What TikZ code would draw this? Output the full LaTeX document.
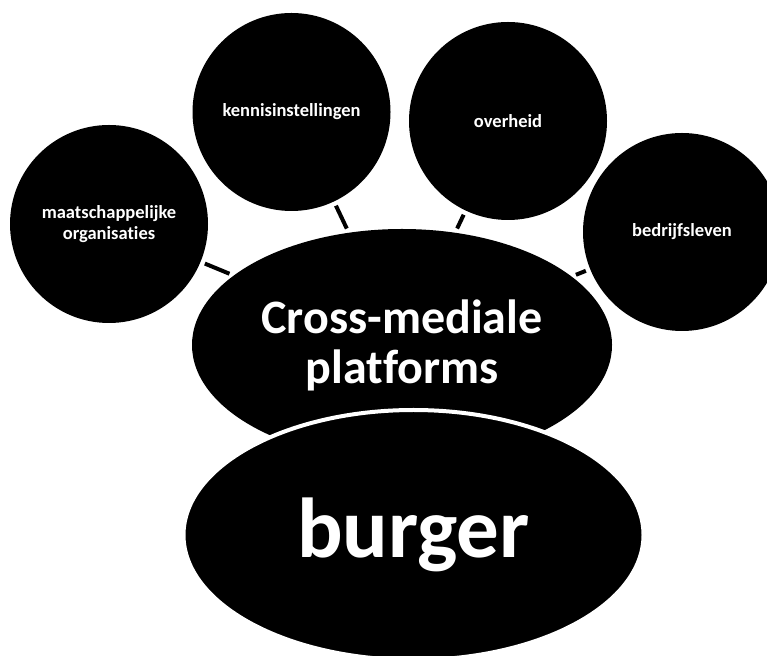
\documentclass[tikz,border=0pt]{standalone}
\usepackage{fontspec}
\setmainfont{Carlito}[Ligatures=NoCommon]
\usetikzlibrary{shapes.geometric}
\begin{document}
\begin{tikzpicture}[x=1pt,y=1pt,
  blob/.style={circle,fill=black,text=white,inner sep=0pt,minimum size=198pt,
    align=center,font=\bfseries\fontsize{18.5}{21}\selectfont},
  hub/.style={ellipse,fill=black,text=white,inner sep=0pt,align=center},
  link/.style={line width=4pt,shorten <=4.5pt,shorten >=4.5pt}]
\useasboundingbox (0,0) rectangle (767,655);
% the four partners
\node[blob] (org) at (109,431) {maatschappelijke\\organisaties};
\node[blob] (kennis) at (291.5,543) {kennisinstellingen};
\node[blob] (overheid) at (508,534) {overheid};
\node[blob] (bedrijf) at (682,423) {bedrijfsleven};
% platform and citizen
\node[hub,minimum width=420pt,minimum height=232pt,
  font=\bfseries\fontsize{48}{50}\selectfont] (cm) at (402,310) {Cross-mediale\\platforms};
\node[hub,draw=white,line width=4pt,minimum width=460pt,minimum height=250pt,
  font=\bfseries\fontsize{85}{90}\selectfont] (burger) at (413.5,120) {burger};
\draw[link] (org) -- (cm);
\draw[link] (kennis) -- (cm);
\draw[link] (overheid) -- (cm);
\draw[link] (bedrijf) -- (cm);
\end{tikzpicture}
\end{document}
